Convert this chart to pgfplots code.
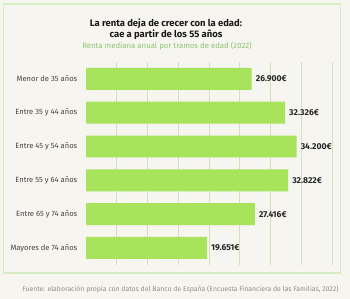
\documentclass[border=0pt]{standalone}
\usepackage{pgfplots}
\pgfplotsset{compat=1.18}
\usepackage{pgfplotstable}
\usepackage{fontspec}
\setmainfont{Fira Sans}

\definecolor{bg}{HTML}{F7F5F0}
\definecolor{framegreen}{HTML}{D8ECC3}
\definecolor{bargreen}{HTML}{A7E45B}
\definecolor{gridc}{HTML}{D3E0C2}
\definecolor{subgreen}{HTML}{8DC46E}
\definecolor{labelc}{HTML}{444444}
\definecolor{footc}{HTML}{8F8F8F}

% Renta mediana anual por tramo de edad (euros)
\pgfplotstableread{
i v lab
0 26900 26.900€
1 32326 32.326€
2 34200 34.200€
3 32822 32.822€
4 27416 27.416€
5 19651 19.651€
}\renta

\begin{document}
\begin{tikzpicture}[x=1bp,y=1bp]
  % fondo y marco
  \fill[bg] (0,0) rectangle (350,-299);
  \draw[framegreen, line width=1.1bp] (3.5,-4) rectangle (340.5,-273);

  % títulos
  \node[anchor=base, font=\bfseries\fontsize{9.5}{10}\selectfont, text=black!90] at (166,-26) {La renta deja de crecer con la edad:};
  \node[anchor=base, font=\bfseries\fontsize{9.5}{10}\selectfont, text=black!90] at (166,-37.7) {cae a partir de los 55 años};
  \node[anchor=base, font=\fontsize{7.8}{8}\selectfont, text=subgreen] at (167,-48.3) {Renta mediana anual por tramos de edad (2022)};

  \begin{axis}[
    at={(86bp,-62bp)}, anchor=north west,
    scale only axis, width=246.3bp, height=202.8bp,
    xbar, bar width=0.65,
    xmin=0, xmax=40000,
    ymin=-0.5, ymax=5.5, y dir=reverse,
    axis line style={draw=none},
    tick style={draw=none},
    xtick={5000,10000,...,40000},
    xticklabels={}, scaled x ticks=false,
    xmajorgrids, grid style={gridc, line width=0.9bp},
    ytick={0,...,5},
    yticklabels={Menor de 35 años, Entre 35 y 44 años, Entre 45 y 54 años, Entre 55 y 64 años, Entre 65 y 74 años, Mayores de 74 años},
    yticklabel style={font=\fontsize{7.6}{8}\selectfont, text=labelc, anchor=east, xshift=-1bp},
    point meta=explicit symbolic,
    nodes near coords,
    nodes near coords style={font=\bfseries\fontsize{8.6}{9}\selectfont, text=black!85, anchor=west, inner xsep=4bp},
    clip=false,
  ]
    \addplot[fill=bargreen, draw=none] table[x=v, y=i, meta=lab] {\renta};
  \end{axis}

  % fuente
  \node[anchor=base east, font=\fontsize{6.9}{7}\selectfont, text=footc] at (342,-291) {Fuente: elaboración propia con datos del Banco de España (Encuesta Financiera de las Familias, 2022)};
\end{tikzpicture}
\end{document}
